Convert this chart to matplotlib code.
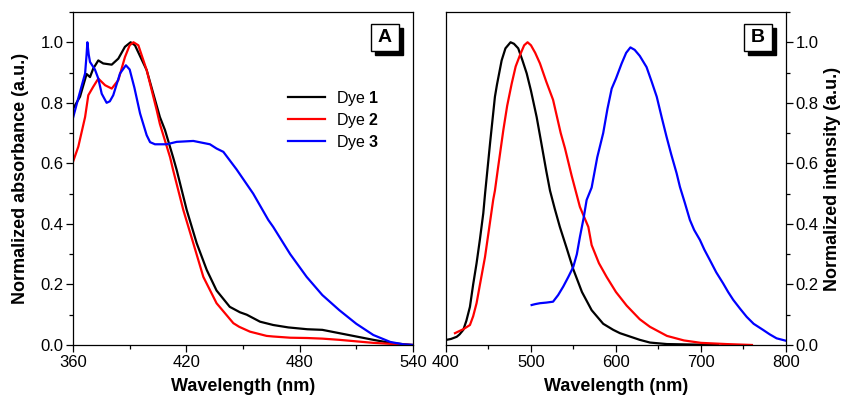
import matplotlib
matplotlib.use("Agg")
import matplotlib.pyplot as plt
from matplotlib.ticker import MultipleLocator
from matplotlib.patches import Rectangle

plt.rcParams['font.family'] = ['Liberation Sans', 'DejaVu Sans']
plt.rcParams['mathtext.fontset'] = 'custom'
plt.rcParams['mathtext.rm'] = 'Liberation Sans'
plt.rcParams['mathtext.bf'] = 'Liberation Sans:bold'

# --- absorbance (panel A) ---
abs1_wl = [360, 363.7, 367.2, 369, 370.7, 373.4, 376, 380.5, 384, 387.5, 390.5, 392.8, 399, 406, 408.7,
           413, 414.9, 420.2, 425.5, 430.8, 436, 443, 448.4, 452, 459, 466, 474, 484, 492, 501, 510, 519,
           528, 536, 540]
abs1 = [0.78, 0.82, 0.895, 0.885, 0.913, 0.94, 0.93, 0.926, 0.946, 0.985, 1.0, 0.99, 0.908, 0.753, 0.71,
        0.62, 0.578, 0.446, 0.336, 0.248, 0.18, 0.126, 0.108, 0.1, 0.077, 0.066, 0.058, 0.052, 0.05, 0.039,
        0.028, 0.017, 0.007, 0.002, 0.0]

abs2_wl = [360, 362.8, 366.4, 368.1, 370.7, 373.4, 377, 380.5, 384, 387.5, 390, 392, 394.6, 399, 404.3,
           406, 411.4, 413, 418.4, 423.7, 429, 436, 444.9, 448, 453.7, 462.5, 466, 475, 484, 492, 501, 510,
           519, 530, 540]
abs2 = [0.605, 0.655, 0.753, 0.825, 0.853, 0.88, 0.858, 0.847, 0.875, 0.951, 0.99, 1.0, 0.99, 0.908, 0.776,
        0.73, 0.62, 0.578, 0.446, 0.336, 0.225, 0.138, 0.072, 0.06, 0.044, 0.03, 0.028, 0.024, 0.023, 0.021,
        0.017, 0.012, 0.007, 0.003, 0.0]

abs3_wl = [360, 363, 366.4, 367.2, 367.6, 368.3, 369, 371.6, 373.4, 375.2, 377.8, 379.5, 381.3, 384.9, 388,
           390, 392.5, 395.5, 399, 400.8, 403.4, 409.6, 414.9, 423.7, 432.5, 436, 439.6, 446.6, 455.4, 463.4,
           466, 475, 483.7, 492, 501, 510, 519, 528, 535, 540]
abs3 = [0.75, 0.82, 0.897, 0.96, 1.0, 0.96, 0.935, 0.91, 0.88, 0.83, 0.80, 0.805, 0.825, 0.897, 0.924,
        0.91, 0.85, 0.765, 0.693, 0.67, 0.663, 0.663, 0.671, 0.674, 0.663, 0.649, 0.638, 0.58, 0.5, 0.413,
        0.39, 0.30, 0.225, 0.165, 0.115, 0.07, 0.033, 0.01, 0.002, 0.0]

# --- emission (panel B) ---
em1_wl = [400.8, 406, 412.6, 416, 420.4, 424, 428.2, 432, 436, 440, 443.9, 446, 452, 457.6, 460, 465.5, 470,
          476, 480, 485, 490, 495, 500, 506.7, 512, 518, 522.4, 528, 534, 542, 549.8, 560, 571.4, 585, 596.8,
          604.7, 628, 640, 660, 700, 720]
em1 = [0.017, 0.02, 0.027, 0.035, 0.05, 0.08, 0.126, 0.2, 0.27, 0.35, 0.435, 0.50, 0.67, 0.82, 0.86, 0.94,
       0.98, 1.0, 0.995, 0.98, 0.94, 0.897, 0.84, 0.753, 0.67, 0.575, 0.51, 0.45, 0.39, 0.32, 0.25, 0.175,
       0.115, 0.07, 0.05, 0.039, 0.017, 0.008, 0.003, 0.001, 0.0]

em2_wl = [410.6, 415, 420.4, 428.2, 432, 436, 440, 445.9, 450, 455.6, 457.6, 461, 467.5, 472, 477.3, 482, 487,
          492, 496, 500, 505, 510.6, 518, 526, 535, 540, 547.8, 557.6, 567.5, 571.4, 580, 589, 600, 612.6,
          628, 640, 660, 680, 700, 730, 760]
em2 = [0.039, 0.045, 0.052, 0.066, 0.095, 0.138, 0.2, 0.29, 0.37, 0.48, 0.51, 0.58, 0.71, 0.79, 0.863, 0.92,
       0.957, 0.99, 1.0, 0.99, 0.965, 0.93, 0.87, 0.81, 0.70, 0.65, 0.56, 0.456, 0.39, 0.33, 0.27, 0.225,
       0.175, 0.13, 0.085, 0.06, 0.03, 0.015, 0.007, 0.003, 0.0]

em3_wl = [500.8, 505, 510.6, 518, 526, 532, 538, 544, 549.8, 554, 557.6, 562, 565.5, 571.4, 578, 585, 590,
          595, 600, 606.7, 612, 617, 622, 628, 636, 642, 648, 654, 659.6, 665, 671.4, 675.3, 681, 687, 692,
          698.8, 704, 710.6, 718, 726, 732, 738, 746, 753.8, 762, 773, 781, 789, 800]
em3 = [0.132, 0.135, 0.138, 0.14, 0.143, 0.165, 0.193, 0.225, 0.258, 0.30, 0.357, 0.42, 0.479, 0.52, 0.62,
       0.70, 0.78, 0.847, 0.88, 0.93, 0.965, 0.983, 0.975, 0.955, 0.918, 0.87, 0.82, 0.75, 0.687, 0.63,
       0.567, 0.522, 0.47, 0.413, 0.38, 0.347, 0.315, 0.28, 0.24, 0.204, 0.175, 0.149, 0.12, 0.093, 0.07,
       0.05, 0.035, 0.022, 0.014]

labels = ['Dye $\\mathbf{1}$', 'Dye $\\mathbf{2}$', 'Dye $\\mathbf{3}$']
colors = ['black', 'red', 'blue']

fig = plt.figure(figsize=(8.44, 4.01), dpi=100)
axA = fig.add_axes([0.0865, 0.1397, 0.4028, 0.8304])
axB = fig.add_axes([0.5284, 0.1397, 0.4028, 0.8304])

for wl, v, c, lab in zip([abs1_wl, abs2_wl, abs3_wl], [abs1, abs2, abs3], colors, labels):
  axA.plot(wl, v, color=c, lw=1.6, label=lab)
for wl, v, c in zip([em1_wl, em2_wl, em3_wl], [em1, em2, em3], colors):
  axB.plot(wl, v, color=c, lw=1.6)

axA.set_xlim(360, 540); axA.set_ylim(0, 1.1)
axB.set_xlim(400, 800); axB.set_ylim(0, 1.1)
axA.xaxis.set_major_locator(MultipleLocator(60)); axA.xaxis.set_minor_locator(MultipleLocator(30))
axB.xaxis.set_major_locator(MultipleLocator(100)); axB.xaxis.set_minor_locator(MultipleLocator(50))
for ax in (axA, axB):
  ax.yaxis.set_major_locator(MultipleLocator(0.2)); ax.yaxis.set_minor_locator(MultipleLocator(0.1))
  ax.yaxis.set_major_formatter(plt.FormatStrFormatter('%.1f'))
  ax.tick_params(which='both', direction='out', labelsize=12, width=0.9, pad=2)
  ax.tick_params(which='major', length=5)
  ax.tick_params(which='minor', length=3)
  for s in ax.spines.values():
    s.set_linewidth(0.9)
  ax.set_xlabel('Wavelength (nm)', fontsize=13, fontweight='bold', labelpad=6)

axB.yaxis.tick_right()
axB.yaxis.set_label_position('right')
axA.set_ylabel('Normalized absorbance (a.u.)', fontsize=13, fontweight='bold', labelpad=8)
axB.set_ylabel('Normalized intensity (a.u.)', fontsize=13, fontweight='bold', labelpad=4)

axA.legend(loc='upper left', bbox_to_anchor=(0.632, 0.77), frameon=False, fontsize=11.5,
           handlelength=2.3, handletextpad=0.7, labelspacing=0.2, borderpad=0, borderaxespad=0)

# boxed panel letters with a drop shadow
bw, bh = 28 / 340, 27 / 333
for ax, letter in ((axA, 'A'), (axB, 'B')):
  x0, y0 = 0.876, 0.883
  ax.add_patch(Rectangle((x0 + 4 / 340, y0 - 4 / 333), bw, bh, transform=ax.transAxes,
                         fc='black', ec='black', lw=1, clip_on=False, zorder=5))
  ax.add_patch(Rectangle((x0, y0), bw, bh, transform=ax.transAxes,
                         fc='white', ec='black', lw=1, clip_on=False, zorder=6))
  ax.text(x0 + bw / 2, y0 + bh / 2, letter, transform=ax.transAxes, ha='center', va='center',
          fontsize=14, fontweight='bold', color='black', zorder=7)

fig.savefig('out.png', dpi=100)
plt.close(fig)
